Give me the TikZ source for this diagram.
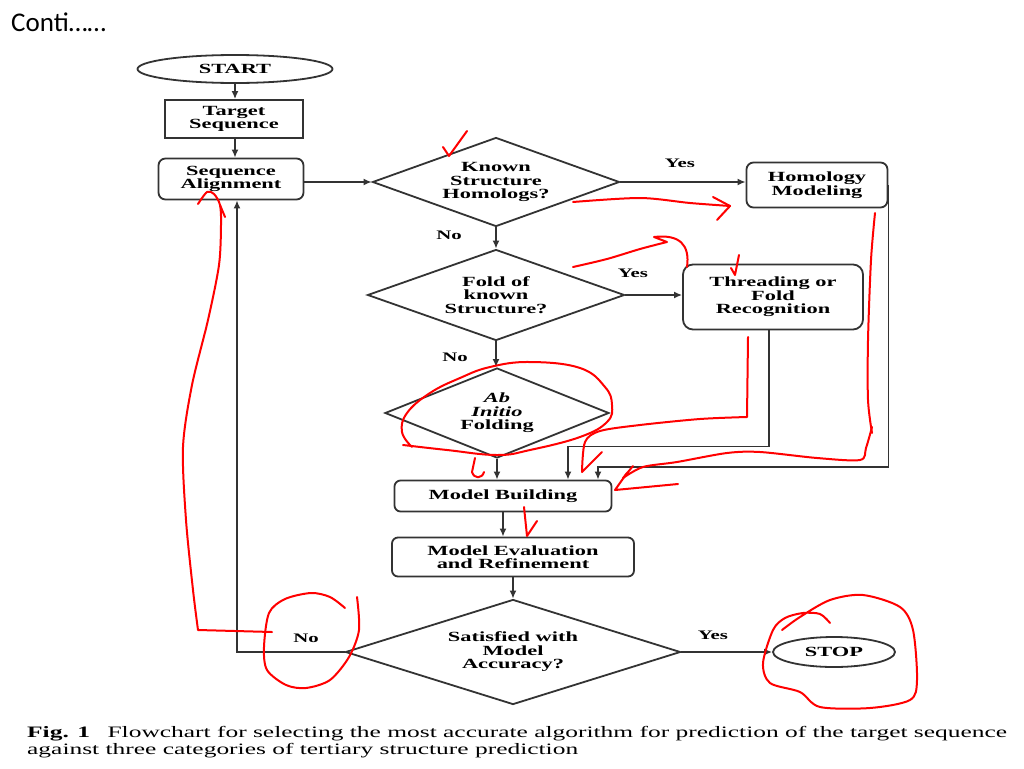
\documentclass[tikz,border=0pt]{standalone}
\usepackage{fontspec}
\setmainfont{Liberation Serif}
\newfontfamily\chartfont[FakeStretch=1.6]{Liberation Serif}
\newfontfamily\slidefont{Carlito}
\usepackage{tikz}
\usetikzlibrary{shapes.geometric, arrows.meta, positioning}
\tikzstyle{terminal} = [ellipse, draw=black!80, line width=1.8pt, inner sep=0pt, font=\chartfont\bfseries\fontsize{14}{13.5}\selectfont]
\tikzstyle{process} = [rectangle, draw=black!80, line width=1.8pt, inner sep=0pt, align=center, font=\chartfont\bfseries\fontsize{14}{13.5}\selectfont]
\tikzstyle{stepbox} = [process, rounded corners=7pt]
\tikzstyle{decision} = [diamond, aspect=2.8, draw=black!80, line width=1.8pt, inner sep=0pt, align=center, font=\chartfont\bfseries\fontsize{14}{13.5}\selectfont]
\tikzstyle{arrow} = [-{Latex[length=8pt, width=7pt]}, line width=1.8pt, draw=black!80]
\tikzstyle{flowlabel} = [inner sep=0pt, font=\chartfont\bfseries\fontsize{13}{13}\selectfont]
\tikzstyle{scribble} = [draw=red, line width=2pt, line cap=round, line join=round]

\begin{document}
\begin{tikzpicture}[x=1pt, y=-1pt]
    \useasboundingbox (0,0) rectangle (1024,768);
    \fill[white] (0,0) rectangle (1024,768);

    % Title and caption
    \node[anchor=base west, inner sep=0pt, font=\slidefont\fontsize{27}{30}\selectfont] (title) at (11,32) {Conti……};
    \node[anchor=west, inner sep=0pt, align=left, font=\chartfont\fontsize{15.9}{17}\selectfont] (caption) at (27,742)
        {{\bfseries Fig. 1}\hspace{0.7em} Flowchart for selecting the most accurate algorithm for prediction of the target sequence\\against three categories of tertiary structure prediction};

    % Nodes
    \node[terminal, minimum width=195, minimum height=28] (start) at (235,69) {START};
    \node[process, minimum width=138, minimum height=38] (target) at (234,119) {Target\\Sequence};
    \node[stepbox, minimum width=145, minimum height=41] (align) at (231,179) {Sequence\\Alignment};
    \node[decision, minimum width=247, minimum height=89] (homologs) at (496,182) {Known\\Structure\\Homologs?};
    \node[stepbox, minimum width=141, minimum height=45] (homology) at (817,185) {Homology\\Modeling};
    \node[decision, minimum width=257, minimum height=91] (fold) at (496,295) {Fold of\\known\\Structure?};
    \node[stepbox, rounded corners=10pt, minimum width=180, minimum height=65] (threading) at (773,297) {Threading or\\Fold\\Recognition};
    \node[decision, minimum width=224, minimum height=90] (abinitio) at (497,413) {{\itshape Ab}\\{\itshape Initio}\\Folding};
    \node[stepbox, rounded corners=6pt, minimum width=217, minimum height=31] (building) at (503,496) {Model Building};
    \node[stepbox, rounded corners=6pt, minimum width=242, minimum height=39] (evaluation) at (513,557) {Model Evaluation\\and Refinement};
    \node[decision, minimum width=335, minimum height=105] (accuracy) at (513,652) {Satisfied with\\Model\\Accuracy?};
    \node[terminal, minimum width=122, minimum height=30] (stop) at (834,652) {STOP};

    % Labels
    \node[flowlabel] (yes1) at (680,163) {Yes};
    \node[flowlabel] (no1) at (449,235) {No};
    \node[flowlabel] (yes2) at (633,273) {Yes};
    \node[flowlabel] (no2) at (455,357) {No};
    \node[flowlabel] (yes3) at (713,635) {Yes};
    \node[flowlabel] (no3) at (306,638) {No};

    % Arrows
    \draw[arrow] (start.south) -- (start.south |- target.north);
    \draw[arrow] (start.south |- target.south) -- (start.south |- align.north);
    \draw[arrow] (align.east |- homologs.west) -- (homologs.west);
    \draw[arrow] (homologs.east) -- (homologs.east -| homology.west);
    \draw[arrow] (homologs.south) -- (fold.north);
    \draw[arrow] (fold.east) -- (fold.east -| threading.west);
    \draw[arrow] (fold.south) -- (fold.south |- abinitio.north);
    \draw[arrow] (abinitio.south) -- (abinitio.south |- building.north);
    \draw[arrow] ([xshift=-4]threading.south) -- ++(0,116) -| ([xshift=65]building.north);
    \draw[arrow] (homology.east) -- ++(0,282) -| ([xshift=95]building.north);
    \draw[arrow] (building.south) -- (building.south |- evaluation.north);
    \draw[arrow] (evaluation.south) -- (accuracy.north);
    \draw[arrow] (accuracy.east) -- (stop.west);
    \draw[arrow] (accuracy.west) -| ([xshift=6]align.south);

    % Red pen marks
    \draw[scribble] (443,147) -- (449,156) -- (467,131);
    \draw[scribble] plot[smooth] coordinates {(573,202) (640,198) (690,203) (730,206)};
    \draw[scribble] (713,197) -- (730,206) -- (717,220);
    \draw[scribble] plot[smooth] coordinates {(573,267) (607,259) (640,249) (667,242)} -- (654,237) .. controls (680,234) and (690,245) .. (687,267);
    \draw[scribble] (731,268) -- (735,275) -- (739,255);
    \draw[scribble] (748,337) -- (747,417) -- plot[smooth] coordinates {(747,417) (700,419) (640,425) (600,431) (585,442) (582,472)} -- (602,452);
    \draw[scribble] plot[smooth, tension=0.7] coordinates {(403,445) (447,450) (497,455) (530,450) (580,437) (607,422) (612,405) (605,387) (580,368) (530,362) (490,367) (460,378) (430,393) (407,413) (402,432) (412,447)};
    \draw[scribble] (475,458) -- (472,472) .. controls (474,479) and (482,479) .. (484,472);
    \draw[scribble] plot[smooth] coordinates {(875,213) (871,260) (868,340) (868,400) (872,433)};
    \draw[scribble] plot[smooth] coordinates {(872,427) (866,448) (860,460) (817,458) (760,452) (727,453) (677,462) (643,467) (623,478)} -- (633,466);
    \draw[scribble] (678,484) -- (615,490) -- (627,473);
    \draw[scribble] (524,507) -- (527,536) -- (537,521);
    \draw[scribble] (272,632) -- (198,630) -- plot[smooth] coordinates {(198,630) (193,590) (186,520) (183,447) (192,385) (208,320) (219,265) (221,225) (220,205) (214,194) (207,192) (198,204)};
    \draw[scribble] (220,205) -- (225,217);
    \draw[scribble] plot[smooth] coordinates {(345,608) (330,597) (311,593) (285,599) (269,613) (264,647) (267,670) (286,685) (306,688) (330,680) (349,657) (359,630) (357,597)};
    \draw[scribble] plot[smooth] coordinates {(830,623) (820,614) (803,613) (785,618) (773,630) (763,663) (770,683) (800,692) (820,707) (870,708) (910,700) (917,680) (913,630) (900,607) (863,595) (830,600) (800,617) (782,630)};
\end{tikzpicture}
\end{document}
